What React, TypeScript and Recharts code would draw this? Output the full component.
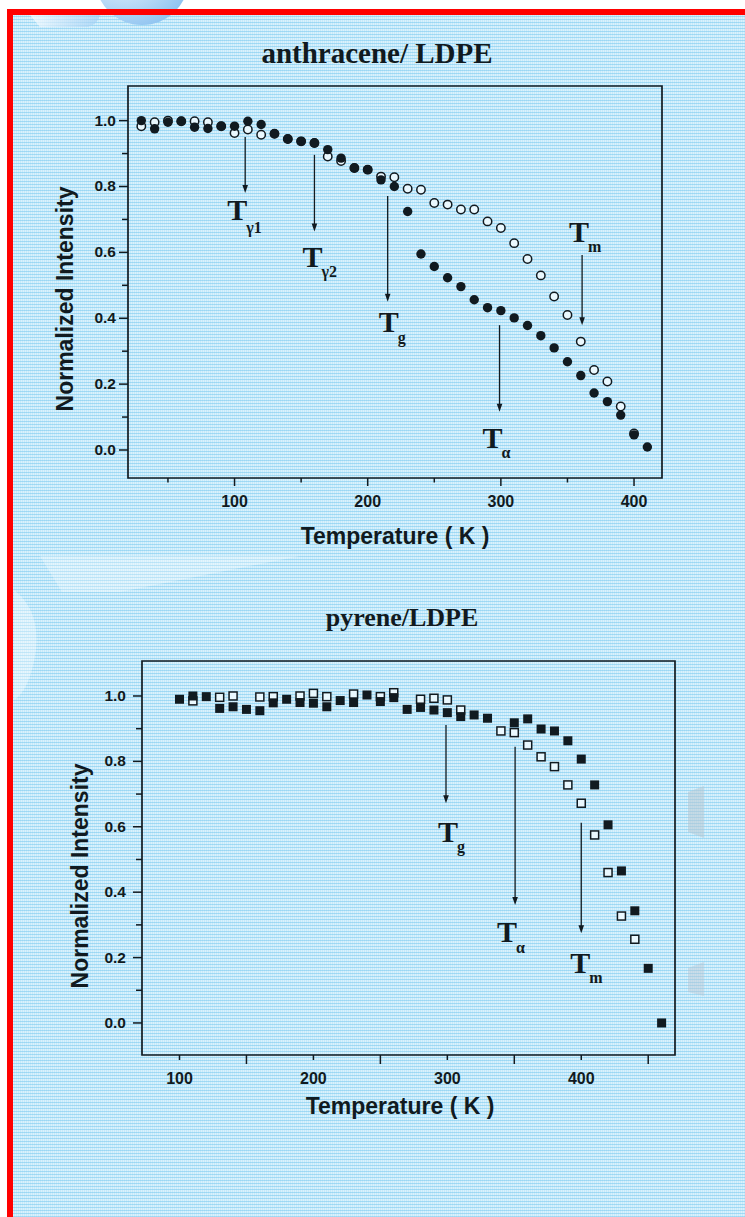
import React from 'react';
import { ScatterChart, Scatter, XAxis, YAxis, ReferenceArea, ReferenceLine } from 'recharts';

const INK = '#111a20';
const SANS = '"Liberation Sans", Arial, sans-serif';
const SERIF = '"Liberation Serif", "Times New Roman", serif';
const HOLLOW = '#eaf8fe';

// anthracene in LDPE (filled and open symbols)
const anthraceneTemp = [30, 40, 50, 60, 70, 80, 90, 100, 110, 120, 130, 140, 150, 160, 170, 180, 190, 200, 210, 220, 230, 240, 250, 260, 270, 280, 290, 300, 310, 320, 330, 340, 350, 360, 370, 380, 390, 400, 410];
const anthraceneFilled = [1.0, 0.975, 0.995, 0.998, 0.98, 0.976, 0.983, 0.983, 0.998, 0.988, 0.96, 0.944, 0.937, 0.932, 0.912, 0.886, 0.856, 0.851, 0.82, 0.8, 0.724, 0.595, 0.557, 0.523, 0.496, 0.456, 0.432, 0.423, 0.401, 0.378, 0.347, 0.31, 0.268, 0.226, 0.173, 0.147, 0.106, 0.046, 0.009];
const anthraceneOpenTemp = [30, 40, 50, 60, 70, 80, 90, 100, 110, 120, 130, 140, 150, 160, 170, 180, 190, 200, 210, 220, 230, 240, 250, 260, 270, 280, 290, 300, 310, 320, 330, 340, 350, 360, 370, 380, 390, 400];
const anthraceneOpen = [0.983, 0.995, 1.0, 0.998, 0.998, 0.995, 0.983, 0.962, 0.973, 0.957, 0.96, 0.944, 0.937, 0.932, 0.891, 0.877, 0.856, 0.851, 0.83, 0.828, 0.793, 0.79, 0.75, 0.745, 0.73, 0.73, 0.694, 0.674, 0.628, 0.58, 0.53, 0.466, 0.41, 0.329, 0.243, 0.208, 0.132, 0.05];

// pyrene in LDPE
const pyreneTemp = [100, 110, 120, 130, 140, 150, 160, 170, 180, 190, 200, 210, 220, 230, 240, 250, 260, 270, 280, 290, 300, 310, 320, 330, 350, 360, 370, 380, 390, 400, 410, 420, 430, 440, 450, 460];
const pyreneFilled = [0.99, 1.0, 0.998, 0.962, 0.967, 0.959, 0.955, 0.979, 0.99, 0.98, 0.978, 0.967, 0.986, 0.98, 1.003, 0.983, 0.995, 0.959, 0.965, 0.957, 0.949, 0.937, 0.942, 0.932, 0.918, 0.93, 0.899, 0.893, 0.863, 0.807, 0.728, 0.606, 0.465, 0.343, 0.167, 0.0];
const pyreneOpenTemp = [110, 130, 140, 160, 170, 190, 200, 210, 230, 250, 260, 280, 290, 300, 310, 340, 350, 360, 370, 380, 390, 400, 410, 420, 430, 440];
const pyreneOpen = [0.985, 0.996, 1.0, 0.997, 0.998, 1.0, 1.008, 0.998, 1.006, 0.998, 1.01, 0.99, 0.993, 0.988, 0.957, 0.893, 0.888, 0.85, 0.814, 0.784, 0.728, 0.672, 0.575, 0.46, 0.327, 0.256];

const yTicks = [0, 0.1, 0.2, 0.3, 0.4, 0.5, 0.6, 0.7, 0.8, 0.9, 1.0];
const anthraceneXTicks = [50, 100, 150, 200, 250, 300, 350, 400];
const pyreneXTicks = [100, 150, 200, 250, 300, 350, 400, 450];
const labeledX = [100, 200, 300, 400];

// transition markers: x position, arrow from/to (intensity), label offsets in px from the tip
const anthraceneArrows = [
  { x: 108, from: 0.95, to: 0.78, sub: 'γ1', dx: -18, dy: 27, sdy: 13 },
  { x: 160, from: 0.896, to: 0.663, sub: 'γ2', dx: -12, dy: 35, sdy: 10 },
  { x: 215, from: 0.771, to: 0.45, sub: 'g', dx: -9, dy: 30, sdy: 11 },
  { x: 299, from: 0.379, to: 0.116, sub: 'α', dx: -17, dy: 36, sdy: 10 },
  { x: 361, from: 0.592, to: 0.379, sub: 'm', dx: -13, dy: -83, sdy: 10 },
];
const pyreneArrows = [
  { x: 299, from: 0.911, to: 0.672, sub: 'g', dx: -8, dy: 39, sdy: 10 },
  { x: 350.6, from: 0.845, to: 0.361, sub: 'α', dx: -18, dy: 37, sdy: 11 },
  { x: 400, from: 0.612, to: 0.274, sub: 'm', dx: -11, dy: 40, sdy: 10 },
];

type Pt = { t: number; v: number };
const zip = (t: number[], v: number[]): Pt[] => t.map((x, i) => ({ t: x, v: v[i] }));

const FilledCircle = (p: any) => <circle cx={p.cx} cy={p.cy} r={4.7} fill={INK} />;
const OpenCircle = (p: any) => (
  <circle cx={p.cx} cy={p.cy} r={4.2} fill={HOLLOW} stroke={INK} strokeWidth={1.5} />
);
const FilledSquare = (p: any) => (
  <rect x={p.cx - 4.5} y={p.cy - 4.5} width={9} height={9} fill={INK} />
);
const OpenSquare = (p: any) => (
  <rect x={p.cx - 4} y={p.cy - 4} width={8} height={8} fill={HOLLOW} stroke={INK} strokeWidth={1.5} />
);

const makeXTick = (labeledLen: number, otherLen: number) => (p: any) => {
  const v = p.payload.value;
  const on = labeledX.includes(v);
  return (
    <g>
      <line x1={p.x} x2={p.x} y1={p.y} y2={p.y + (on ? labeledLen : otherLen)} stroke={INK} strokeWidth={1.5} />
      {on && (
        <text x={p.x} y={p.y + 29} textAnchor="middle" fontFamily={SANS} fontWeight="bold" fontSize={16} fill={INK}>
          {v}
        </text>
      )}
    </g>
  );
};

const makeYTick = (gap: number) => (p: any) => {
  const v = p.payload.value;
  const major = Math.abs(v * 5 - Math.round(v * 5)) < 1e-6;
  return (
    <g>
      <line x1={p.x - (major ? 9 : 6)} x2={p.x} y1={p.y} y2={p.y} stroke={INK} strokeWidth={1.5} />
      {major && (
        <text x={p.x - gap} y={p.y + 5} textAnchor="end" fontFamily={SANS} fontWeight="bold" fontSize={15.5} fill={INK}>
          {v.toFixed(1)}
        </text>
      )}
    </g>
  );
};

type Arrow = (typeof anthraceneArrows)[number];

const arrowShape = (a: Arrow) => (p: any) => {
  const { x1, y1, x2, y2 } = p;
  const head = 8;
  return (
    <g>
      <line x1={x1} y1={y1} x2={x2} y2={y2 - head + 1} stroke={INK} strokeWidth={1.3} />
      <path d={`M${x2 - 2.8},${y2 - head} L${x2 + 2.8},${y2 - head} L${x2},${y2} Z`} fill={INK} />
      <text x={x2 + a.dx} y={y2 + a.dy} fontFamily={SERIF} fontWeight="bold" fontSize={30} fill={INK}>
        T
        <tspan fontSize={16} dx={-1} dy={a.sdy}>
          {a.sub}
        </tspan>
      </text>
    </g>
  );
};

type PanelProps = {
  top: number;
  height: number;
  margin: { top: number; right: number; bottom: number; left: number };
  xDomain: [number, number];
  yDomain: [number, number];
  xTicks: number[];
  xTick: (p: any) => React.ReactElement;
  yTick: (p: any) => React.ReactElement;
  filled: Pt[];
  open: Pt[];
  filledShape: (p: any) => React.ReactElement;
  openShape: (p: any) => React.ReactElement;
  arrows: Arrow[];
};

const Y_AXIS_W = 50;
const X_AXIS_H = 40;

const Panel = (props: PanelProps) => (
  <div style={{ position: 'absolute', left: 0, top: props.top }}>
    <ScatterChart width={745} height={props.height} margin={props.margin}>
      <XAxis
        type="number"
        dataKey="t"
        domain={props.xDomain}
        allowDataOverflow
        ticks={props.xTicks}
        interval={0}
        height={X_AXIS_H}
        tickSize={0}
        tickMargin={0}
        axisLine={false}
        tickLine={false}
        tick={props.xTick}
      />
      <YAxis
        type="number"
        dataKey="v"
        domain={props.yDomain}
        allowDataOverflow
        ticks={yTicks}
        interval={0}
        width={Y_AXIS_W}
        tickSize={0}
        tickMargin={0}
        axisLine={false}
        tickLine={false}
        tick={props.yTick}
      />
      <ReferenceArea
        x1={props.xDomain[0]}
        x2={props.xDomain[1]}
        y1={props.yDomain[0]}
        y2={props.yDomain[1]}
        fill="none"
        fillOpacity={0}
        stroke={INK}
        strokeWidth={1.7}
        ifOverflow="visible"
      />
      {props.arrows.map((a, i) => (
        <ReferenceLine
          key={i}
          segment={[
            { x: a.x, y: a.from },
            { x: a.x, y: a.to },
          ]}
          ifOverflow="visible"
          shape={arrowShape(a)}
        />
      ))}
      <Scatter data={props.open} shape={props.openShape} isAnimationActive={false} />
      <Scatter data={props.filled} shape={props.filledShape} isAnimationActive={false} />
    </ScatterChart>
  </div>
);

const texture =
  'repeating-linear-gradient(0deg, rgba(120,200,238,0.55) 0px, rgba(120,200,238,0.55) 1px, rgba(255,255,255,0) 1px, rgba(255,255,255,0) 3px),' +
  'repeating-linear-gradient(90deg, rgba(255,255,255,0.35) 0px, rgba(255,255,255,0.35) 1px, rgba(255,255,255,0) 1px, rgba(255,255,255,0) 2px),' +
  '#c6eafa';

const labelStyle = { fontFamily: SANS, fontWeight: 'bold' as const, fill: INK };

export default function App() {
  return (
    <div style={{ position: 'absolute', left: 0, top: 0, width: 745, height: 1217, overflow: 'hidden', background: '#fff' }}>
      <div style={{ position: 'absolute', left: 13, top: 15, width: 760, height: 1220, background: texture }} />
      <svg width={745} height={1217} style={{ position: 'absolute', left: 0, top: 0 }}>
        <defs>
          <radialGradient id="bubble" cx="30%" cy="30%" r="80%">
            <stop offset="0%" stopColor="#ffffff" />
            <stop offset="100%" stopColor="#8cc2f0" />
          </radialGradient>
          <linearGradient id="wedge" x1="0" x2="1" y1="0" y2="0">
            <stop offset="0%" stopColor="#ffffff" stopOpacity={0.7} />
            <stop offset="100%" stopColor="#9ccbf3" stopOpacity={0.6} />
          </linearGradient>
        </defs>
        <circle cx={142} cy={-22} r={47} fill="url(#bubble)" />
        <path d="M 30 15 L 100 15 Q 98 24 88 27 L 40 27 Z" fill="url(#wedge)" />
        <path d="M 40 556 L 300 556 L 120 592 L 62 592 Z" fill="#ffffff" opacity={0.28} />
        <path d="M 14 590 Q 40 610 36 650 Q 30 690 14 700 Z" fill="#ffffff" opacity={0.35} />
        <path d="M 688 792 L 704 786 L 704 838 L 688 832 Z" fill="#b7c6d2" opacity={0.55} />
        <path d="M 688 968 L 704 962 L 704 996 L 688 992 Z" fill="#b7c6d2" opacity={0.45} />
      </svg>
      <div
        style={{
          position: 'absolute',
          left: 7,
          top: 9,
          width: 760,
          height: 1230,
          borderLeft: '6px solid #ff0000',
          borderTop: '6px solid #ff0000',
        }}
      />
      <Panel
        top={0}
        height={560}
        margin={{ top: 86, right: 83, bottom: 82 - X_AXIS_H, left: 128 - Y_AXIS_W }}
        xDomain={[20, 421]}
        yDomain={[-0.085, 1.105]}
        xTicks={anthraceneXTicks}
        xTick={makeXTick(8, 4.5)}
        yTick={makeYTick(12)}
        filled={zip(anthraceneTemp, anthraceneFilled)}
        open={zip(anthraceneOpenTemp, anthraceneOpen)}
        filledShape={FilledCircle}
        openShape={OpenCircle}
        arrows={anthraceneArrows}
      />
      <Panel
        top={560}
        height={600}
        margin={{ top: 101, right: 70, bottom: 105 - X_AXIS_H, left: 142 - Y_AXIS_W }}
        xDomain={[72, 470]}
        yDomain={[-0.098, 1.107]}
        xTicks={pyreneXTicks}
        xTick={makeXTick(5, 9)}
        yTick={makeYTick(16)}
        filled={zip(pyreneTemp, pyreneFilled)}
        open={zip(pyreneOpenTemp, pyreneOpen)}
        filledShape={FilledSquare}
        openShape={OpenSquare}
        arrows={pyreneArrows}
      />
      <svg width={745} height={1217} style={{ position: 'absolute', left: 0, top: 0, pointerEvents: 'none' }}>
        <text x={377} y={63} textAnchor="middle" fontFamily={SERIF} fontWeight="bold" fontSize={29} fill={INK}>
          anthracene/ LDPE
        </text>
        <text x={402} y={626} textAnchor="middle" fontFamily={SERIF} fontWeight="bold" fontSize={26} fill={INK}>
          pyrene/LDPE
        </text>
        <text x={395} y={544} textAnchor="middle" fontSize={23} {...labelStyle}>
          Temperature ( K )
        </text>
        <text x={400} y={1114} textAnchor="middle" fontSize={23} {...labelStyle}>
          Temperature ( K )
        </text>
        <text x={73} y={299} transform="rotate(-90 73 299)" textAnchor="middle" fontSize={23} {...labelStyle}>
          Normalized Intensity
        </text>
        <text x={88} y={876} transform="rotate(-90 88 876)" textAnchor="middle" fontSize={23} {...labelStyle}>
          Normalized Intensity
        </text>
      </svg>
    </div>
  );
}
